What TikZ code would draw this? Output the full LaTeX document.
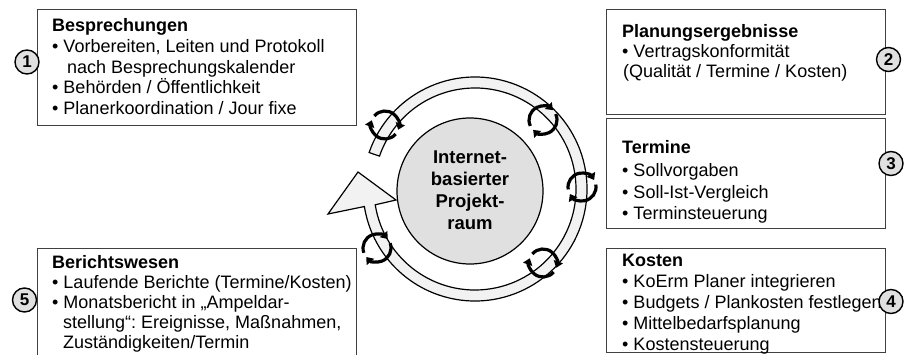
\documentclass[tikz,border=0pt]{standalone}
\usepackage{fontspec}
\setmainfont{Liberation Sans}
\usetikzlibrary{arrows.meta,calc}
\frenchspacing
\newcommand{\cycicon}[3]{%
  \begin{scope}[shift={(#1,#2)},rotate=#3]
    \draw[iconarrow] (95:14pt) arc[start angle=95,end angle=-65,radius=14pt];
    \draw[iconarrow] (-85:14pt) arc[start angle=-85,end angle=-245,radius=14pt];
  \end{scope}}
\begin{document}
\begin{tikzpicture}[x=1pt,y=1pt,
  box/.style={draw=black!75,line width=1.3pt,fill=white,anchor=south west,inner sep=0pt},
  txt/.style={anchor=base west,inner sep=0pt,font=\fontsize{18}{20}\selectfont},
  ttl/.style={anchor=base west,inner sep=0pt,font=\fontsize{18}{20}\selectfont\bfseries},
  num/.style={circle,draw=black,line width=1.4pt,fill=black!12,minimum size=24pt,inner sep=0pt,font=\fontsize{17}{17}\selectfont\bfseries},
  ctr/.style={anchor=base,inner sep=0pt,font=\fontsize{18.5}{20}\selectfont\bfseries},
  hubstyle/.style={circle,draw=black,line width=1.2pt,fill=black!12,minimum size=146pt,inner sep=0pt},
  ringstyle/.style={draw=black,line width=1.2pt,fill=black!5,line join=miter},
  iconarrow/.style={draw=black,line width=3.2pt,-{Triangle[length=6.5pt,width=9.5pt]}}
]
\useasboundingbox (0,0) rectangle (904,354);

% boxes
\node[box,minimum width=319pt,minimum height=116pt] (box1) at (37,228) {};
\node[box,minimum width=279pt,minimum height=105pt] (box2) at (606,239) {};
\node[box,minimum width=279pt,minimum height=110pt] (box3) at (606,125) {};
\node[box,minimum width=279pt,minimum height=104pt] (box4) at (606,1) {};
\node[box,minimum width=319pt,minimum height=125pt] (box5) at (37,-20) {};

% ring arrow
\coordinate (rc) at (475,165);
\coordinate (hb1) at (328,140);
\coordinate (htip) at (358,182);
\coordinate (hb2) at (396,154);
\draw[ringstyle] ($(rc)+(161:112)$) arc[start angle=161,end angle=-171,radius=112pt]
  -- (hb1) -- (htip) -- (hb2) -- ($(rc)+(-171:101)$)
  arc[start angle=-171,end angle=161,radius=101pt] -- cycle;

% hub
\node[hubstyle] (hub) at (470,163) {};
\node[ctr] (h1) at (470,191) {Internet-};
\node[ctr] (h2) at (470,169) {basierter};
\node[ctr] (h3) at (470,147) {Projekt-};
\node[ctr] (h4) at (470,125) {raum};

% cycle icons
\cycicon{385}{229}{45}
\cycicon{543}{234}{110}
\cycicon{582}{167}{95}
\cycicon{543}{91}{45}
\cycicon{377}{106}{105}

% box 1 text
\node[ttl] (t1a) at (52,322) {Besprechungen};
\node[txt] (t1b) at (52,301) {• Vorbereiten, Leiten und Protokoll};
\node[txt] (t1c) at (67,280.5) {nach Besprechungskalender};
\node[txt] (t1d) at (52,260) {• Behörden / Öffentlichkeit};
\node[txt] (t1e) at (52,239.5) {• Planerkoordination / Jour fixe};

% box 2 text
\node[ttl] (t2a) at (622,316) {Planungsergebnisse};
\node[txt] (t2b) at (622,296) {• Vertragskonformität};
\node[txt] (t2c) at (623,276) {(Qualität / Termine / Kosten)};

% box 3 text
\node[ttl] (t3a) at (622,201) {Termine};
\node[txt] (t3b) at (622,178) {• Sollvorgaben};
\node[txt] (t3c) at (622,156) {• Soll-Ist-Vergleich};
\node[txt] (t3d) at (622,135) {• Terminsteuerung};

% box 4 text
\node[ttl] (t4a) at (622,88) {Kosten};
\node[txt] (t4b) at (622,67) {• KoErm Planer integrieren};
\node[txt] (t4c) at (622,46) {• Budgets / Plankosten festlegen};
\node[txt] (t4d) at (622,25) {• Mittelbedarfsplanung};
\node[txt] (t4e) at (622,4) {• Kostensteuerung};

% box 5 text
\node[ttl] (t5a) at (52,86) {Berichtswesen};
\node[txt] (t5b) at (52,66) {• Laufende Berichte (Termine/Kosten)};
\node[txt] (t5c) at (52,46) {• Monatsbericht in „Ampeldar-};
\node[txt] (t5d) at (63,26) {stellung“: Ereignisse, Maßnahmen,};
\node[txt] (t5e) at (63,6) {Zuständigkeiten/Termin};

% number circles
\node[num] (n1) at (27,292) {1};
\node[num] (n2) at (888.5,294.5) {2};
\node[num] (n3) at (891,190.5) {3};
\node[num] (n4) at (891,52.5) {4};
\node[num] (n5) at (24.5,54) {5};
\end{tikzpicture}
\end{document}
